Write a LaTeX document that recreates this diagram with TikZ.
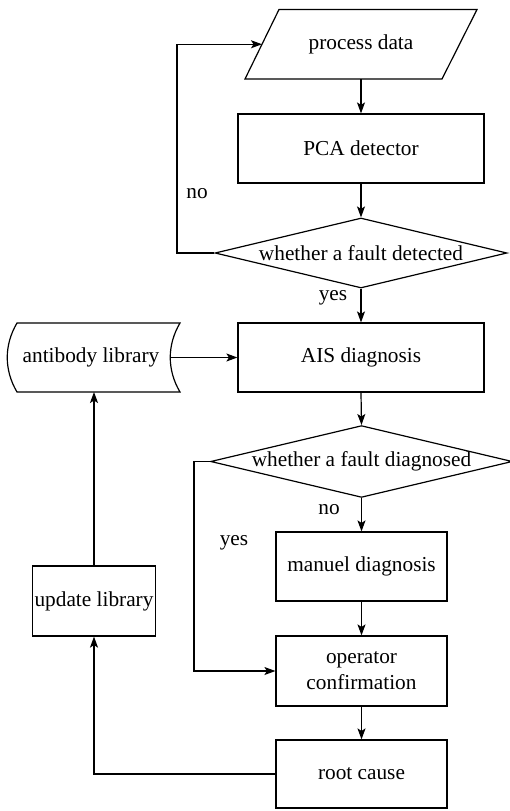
\documentclass[tikz,border=0pt]{standalone}
\usepackage{fontspec}
\setmainfont{Liberation Serif}
\newfontfamily\flowfont{Liberation Serif}
\usetikzlibrary{shapes.geometric,arrows.meta}

\begin{document}
\begin{tikzpicture}[x=1pt,y=-1pt,
    every node/.style={font=\flowfont\fontsize{21.3}{25}\selectfont},
    line/.style={line width=1.2pt,draw=black},
    arr/.style={line, -{Stealth[length=11pt,width=8pt,inset=2.5pt]}},
    box/.style={draw,line width=1.2pt,rectangle,inner sep=2pt,align=center},
    decision/.style={draw,line width=1.2pt,diamond,inner sep=0pt,aspect=4.2},
    lbl/.style={inner sep=0pt}]
  \useasboundingbox (0,0) rectangle (509,811);

  % input: process data (parallelogram)
  \node (pd) at (361,44.25) {process data};
  \draw[line] (279,9.5) -- (477,9.5) -- (442,79) -- (245,79) -- cycle;
  \coordinate (pdN) at (361,79);
  \coordinate (pdW) at (262,44.25);

  % main column
  \node[box,minimum width=246,minimum height=69] (pca) at (361,148.5) {PCA detector};
  \node[decision,minimum width=292,minimum height=70] (d1) at (361,253) {whether a fault detected};
  \node[box,minimum width=246,minimum height=69] (ais) at (361,357.5) {AIS diagnosis};
  \node[decision,minimum width=293,minimum height=69] (d2) at (361.5,461.5) {whether a fault diagnosed};
  \node[box,minimum width=171,minimum height=69] (man) at (361.5,566.5) {manuel diagnosis};
  \node[box,minimum width=171,minimum height=70] (op) at (361.5,671) {operator\\[1pt]confirmation};
  \node[box,minimum width=171,minimum height=68] (rc) at (361.5,774) {root cause};

  % stored data: antibody library
  \node (lib) at (91,357.5) {antibody library};
  \draw[line] (17,323) -- (180,323)
      .. controls (167,345) and (167,370) .. (180,392)
      -- (17,392)
      .. controls (4,370) and (4,345) .. (17,323) -- cycle;
  \coordinate (libE) at (170.5,357.5);
  \coordinate (libS) at (94,392);

  % update library
  \node[box,minimum width=122,minimum height=70] (upd) at (94,601) {update library};

  % vertical flow
  \draw[arr] (pdN) -- (pca.north);
  \draw[arr] (pca.south) -- (d1.north);
  \draw[arr] (d1.south) -- (ais.north);
  \draw[arr] (ais.south) -- (d2.north);
  \draw[arr] (d2.south) -- (man.north);
  \draw[arr] (man.south) -- (op.north);
  \draw[arr] (op.south) -- (rc.north);

  % no-fault loop back to the data input
  \coordinate (c1) at (177,253);
  \coordinate (c2) at (177,44.25);
  \draw[arr] (d1.west) -- (c1) -- (c2) -- (pdW);

  % diagnosed: skip manual diagnosis
  \coordinate (c3) at (194,461.5);
  \coordinate (c4) at (194,671);
  \draw[arr] (d2.west) -- (c3) -- (c4) -- (op.west);

  % library update loop
  \draw[arr] (libE) -- (ais.west);
  \coordinate (c5) at (94,774);
  \draw[arr] (rc.west) -- (c5) -- (upd.south);
  \draw[arr] (upd.north) -- (libS);

  % branch labels
  \node[lbl] (lno1) at (197,194) {no};
  \node[lbl] (lyes1) at (333,298) {yes};
  \node[lbl] (lno2) at (329,510) {no};
  \node[lbl] (lyes2) at (234,543) {yes};
\end{tikzpicture}
\end{document}
